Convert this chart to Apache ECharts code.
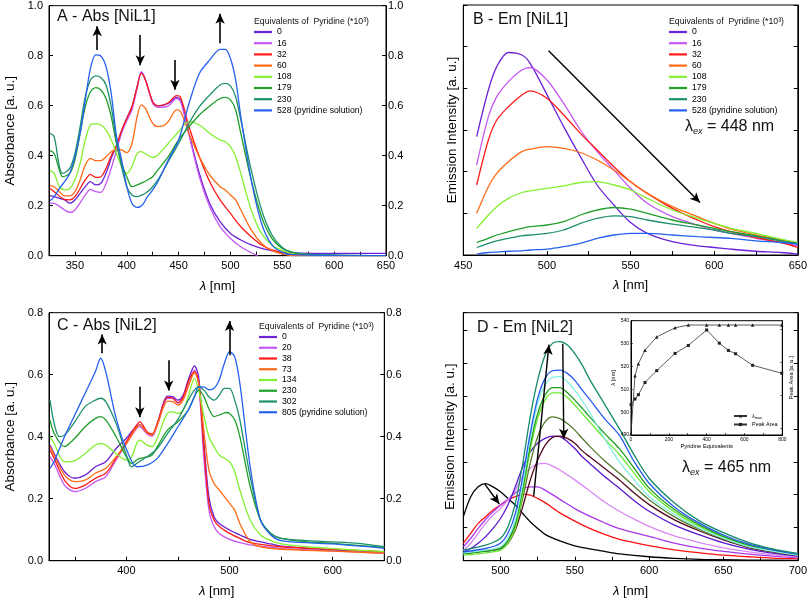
<!DOCTYPE html>
<html><head><meta charset="utf-8">
<script src="https://cdn.jsdelivr.net/npm/echarts@6/dist/echarts.min.js"></script>
<style>html,body{margin:0;padding:0;background:#fff}#c{width:810px;height:601px}</style>
</head><body><div id="c"></div>
<script>
// ---------- Panel A: Abs [NiL1] ----------
const legendA = ['0','16','32','60','108','179','230','528 (pyridine solution)'];
const colorsA = ['#6a22d6','#c657f2','#ff1a1a','#ff6a14','#84f032','#1f9e2a','#1f8f6c','#2462ee'];
const absA_0 = [[326,0.24],[330,0.236],[340,0.223],[345,0.21],[350,0.223],[360,0.276],[365,0.296],[370,0.283],[375,0.29],[380,0.33],[385,0.39],[390,0.44],[395,0.5],[400,0.55],[405,0.596],[410,0.676],[414,0.732],[418,0.703],[425,0.616],[430,0.599],[440,0.609],[448,0.633],[452,0.623],[460,0.489],[470,0.329],[480,0.209],[490,0.136],[500,0.089],[510,0.063],[520,0.043],[530,0.029],[540,0.02],[550,0.013],[580,0.009],[650,0.009]];
const absA_16 = [[326,0.21],[330,0.209],[340,0.183],[345,0.173],[350,0.183],[360,0.243],[365,0.265],[370,0.256],[375,0.253],[380,0.289],[385,0.35],[390,0.42],[395,0.49],[400,0.54],[405,0.583],[410,0.669],[414,0.736],[418,0.705],[425,0.609],[430,0.593],[440,0.599],[448,0.628],[452,0.616],[460,0.483],[470,0.316],[480,0.196],[490,0.116],[500,0.069],[510,0.036],[520,0.012],[526,0]];
const absA_32 = [[326,0.27],[330,0.256],[340,0.225],[345,0.223],[350,0.236],[360,0.303],[365,0.325],[370,0.313],[375,0.316],[380,0.349],[385,0.4],[390,0.44],[395,0.5],[400,0.549],[405,0.596],[410,0.676],[414,0.729],[418,0.703],[425,0.616],[430,0.599],[440,0.612],[448,0.64],[452,0.633],[460,0.516],[470,0.396],[480,0.296],[490,0.223],[500,0.169],[510,0.116],[520,0.076],[530,0.043],[540,0.023],[550,0.012],[560,0.005],[580,0.001],[650,0]];
const absA_60 = [[326,0.28],[330,0.276],[335,0.256],[340,0.239],[345,0.239],[350,0.256],[355,0.303],[360,0.363],[365,0.389],[370,0.38],[375,0.38],[380,0.396],[385,0.416],[390,0.425],[395,0.423],[400,0.412],[405,0.449],[410,0.556],[414,0.603],[418,0.589],[425,0.529],[430,0.516],[435,0.519],[440,0.536],[448,0.583],[452,0.576],[460,0.489],[470,0.396],[480,0.323],[490,0.276],[495,0.263],[500,0.243],[505,0.223],[510,0.183],[520,0.103],[530,0.049],[540,0.02],[550,0.007],[560,0],[650,0]];
const absA_108 = [[326,0.34],[330,0.329],[335,0.276],[340,0.263],[345,0.269],[350,0.303],[355,0.369],[360,0.463],[365,0.523],[370,0.527],[375,0.523],[380,0.503],[385,0.463],[390,0.41],[395,0.356],[400,0.329],[405,0.356],[410,0.409],[414,0.416],[418,0.407],[425,0.393],[430,0.403],[440,0.449],[450,0.496],[460,0.536],[470,0.523],[480,0.489],[490,0.463],[495,0.456],[500,0.436],[505,0.396],[510,0.329],[520,0.183],[530,0.089],[540,0.043],[550,0.02],[560,0.009],[580,0.003],[650,0]];
const absA_179 = [[326,0.42],[330,0.409],[335,0.343],[338,0.316],[345,0.329],[350,0.383],[355,0.489],[360,0.596],[365,0.656],[370,0.672],[375,0.663],[380,0.629],[385,0.556],[390,0.45],[395,0.369],[400,0.316],[405,0.276],[410,0.283],[415,0.292],[420,0.303],[425,0.316],[430,0.343],[440,0.396],[450,0.463],[460,0.516],[470,0.563],[480,0.599],[490,0.629],[495,0.633],[500,0.623],[505,0.583],[510,0.489],[520,0.303],[530,0.156],[540,0.069],[550,0.029],[560,0.013],[580,0.004],[650,0]];
const absA_230 = [[326,0.49],[330,0.476],[335,0.356],[338,0.329],[345,0.349],[350,0.409],[355,0.516],[360,0.636],[365,0.703],[370,0.719],[375,0.713],[380,0.683],[385,0.596],[390,0.46],[395,0.356],[400,0.276],[405,0.243],[410,0.236],[415,0.243],[420,0.256],[425,0.276],[430,0.303],[440,0.376],[450,0.449],[460,0.529],[470,0.596],[480,0.643],[490,0.683],[495,0.689],[500,0.679],[505,0.636],[510,0.543],[520,0.343],[530,0.183],[540,0.083],[550,0.033],[560,0.013],[580,0.004],[650,0]];
const absA_528 = [[326,0.22],[330,0.236],[335,0.269],[340,0.296],[345,0.329],[350,0.396],[355,0.489],[360,0.623],[365,0.749],[370,0.803],[375,0.799],[380,0.756],[385,0.649],[390,0.48],[395,0.383],[400,0.276],[405,0.209],[410,0.193],[415,0.203],[420,0.236],[425,0.263],[430,0.296],[440,0.383],[450,0.463],[460,0.609],[470,0.729],[480,0.783],[490,0.825],[495,0.825],[500,0.789],[505,0.703],[510,0.556],[520,0.303],[530,0.129],[540,0.043],[550,0.013],[560,0.004],[650,0]];
const arrowsA = [[371.5,0.823,371.5,0.918],[413,0.883,413,0.762],[446.5,0.783,446.5,0.664],[490,0.85,490,0.968]];

// ---------- Panel B: Em [NiL1] ----------
const wlB = [458,465,470,477,485,490,500,510,520,530,540,550,560,575,590,600,610,625,640,650];
const emB_0 = [2.84,3.96,4.52,4.86,4.8,4.6,3.85,3.08,2.36,1.68,1.2,0.78,0.52,0.32,0.22,0.18,0.14,0.09,0.06,0.02];
const emB_16 = [2.16,3.32,3.8,4.16,4.44,4.5,4.2,3.64,3.0,2.48,2.04,1.6,1.24,0.92,0.72,0.6,0.52,0.4,0.3,0.22];
const emB_32 = [1.68,2.76,3.24,3.56,3.84,3.94,3.76,3.36,2.92,2.52,2.12,1.76,1.48,1.12,0.84,0.68,0.56,0.42,0.3,0.18];
const emB_60 = [1.0,1.64,1.96,2.24,2.48,2.54,2.6,2.56,2.46,2.28,2.04,1.76,1.48,1.16,0.92,0.76,0.62,0.48,0.36,0.28];
const emB_108 = [0.64,0.96,1.16,1.36,1.5,1.54,1.6,1.66,1.74,1.76,1.68,1.56,1.36,1.08,0.88,0.76,0.64,0.52,0.38,0.3];
const emB_179 = [0.3,0.4,0.48,0.56,0.64,0.68,0.72,0.8,0.96,1.08,1.14,1.1,1.0,0.84,0.72,0.64,0.56,0.46,0.34,0.28];
const emB_230 = [0.18,0.28,0.34,0.4,0.46,0.48,0.52,0.6,0.76,0.88,0.94,0.92,0.84,0.74,0.66,0.6,0.52,0.44,0.34,0.27];
const emB_528 = [0.02,0.06,0.07,0.09,0.1,0.12,0.14,0.2,0.28,0.4,0.48,0.52,0.52,0.48,0.44,0.42,0.4,0.34,0.3,0.26];
const arrowsB = [[501,4.9,591.5,1.26]];

// ---------- Panel C: Abs [NiL2] ----------
const legendC = ['0','20','38','73','134','230','302','805 (pyridine solution)'];
const colorsC = ['#6a22d6','#c657f2','#ff1a1a','#ff6a14','#84f032','#1f9e2a','#1f8f6c','#2462ee'];
const absC_0 = [[326,0.373],[330,0.346],[340,0.287],[350,0.266],[360,0.276],[370,0.303],[380,0.319],[390,0.362],[400,0.395],[405,0.416],[410,0.434],[413,0.438],[420,0.411],[425,0.405],[430,0.443],[440,0.531],[445,0.529],[450,0.518],[455,0.534],[460,0.583],[466,0.628],[470,0.594],[475,0.389],[480,0.206],[485,0.142],[490,0.12],[500,0.099],[510,0.083],[520,0.069],[530,0.061],[540,0.054],[550,0.047],[575,0.04],[600,0.034],[625,0.031],[650,0.028]];
const absC_20 = [[326,0.335],[330,0.314],[340,0.244],[350,0.223],[360,0.233],[370,0.255],[380,0.271],[390,0.325],[400,0.378],[410,0.427],[413,0.432],[420,0.409],[425,0.402],[430,0.438],[440,0.524],[445,0.524],[450,0.508],[455,0.527],[460,0.572],[466,0.615],[470,0.572],[475,0.335],[480,0.163],[485,0.11],[490,0.088],[500,0.069],[510,0.058],[520,0.051],[550,0.04],[600,0.032],[650,0.024]];
const absC_38 = [[326,0.357],[330,0.33],[340,0.26],[350,0.233],[360,0.244],[370,0.266],[380,0.282],[390,0.33],[400,0.384],[410,0.438],[413,0.448],[420,0.416],[425,0.409],[430,0.443],[440,0.527],[445,0.524],[450,0.51],[455,0.527],[460,0.578],[466,0.61],[470,0.578],[475,0.368],[480,0.185],[485,0.131],[490,0.11],[500,0.088],[510,0.072],[520,0.058],[550,0.045],[600,0.037],[650,0.029]];
const absC_73 = [[326,0.368],[330,0.341],[340,0.276],[350,0.255],[360,0.26],[370,0.282],[380,0.298],[390,0.335],[400,0.378],[410,0.43],[413,0.438],[420,0.413],[425,0.405],[430,0.438],[440,0.515],[445,0.513],[450,0.502],[455,0.518],[460,0.561],[466,0.606],[470,0.572],[475,0.422],[480,0.292],[485,0.249],[490,0.228],[500,0.185],[505,0.163],[510,0.12],[520,0.061],[530,0.045],[550,0.037],[600,0.031],[650,0.024]];
const absC_134 = [[326,0.4],[330,0.378],[340,0.319],[350,0.323],[360,0.346],[370,0.373],[375,0.378],[380,0.373],[390,0.346],[400,0.325],[405,0.335],[410,0.378],[413,0.389],[420,0.373],[425,0.368],[430,0.395],[440,0.477],[445,0.48],[450,0.475],[455,0.486],[460,0.529],[466,0.588],[470,0.551],[475,0.47],[480,0.4],[485,0.368],[490,0.341],[500,0.319],[505,0.287],[510,0.228],[520,0.131],[530,0.083],[540,0.065],[550,0.054],[575,0.045],[600,0.039],[650,0.029]];
const absC_230 = [[326,0.454],[330,0.411],[340,0.368],[350,0.395],[360,0.432],[370,0.459],[375,0.465],[380,0.454],[390,0.4],[400,0.335],[405,0.314],[410,0.325],[413,0.33],[420,0.335],[425,0.341],[430,0.368],[440,0.422],[450,0.448],[460,0.486],[466,0.53],[470,0.55],[475,0.53],[480,0.49],[485,0.465],[490,0.47],[497,0.478],[500,0.475],[505,0.455],[510,0.4],[520,0.239],[530,0.131],[540,0.088],[550,0.072],[575,0.061],[600,0.056],[650,0.043]];
const absC_302 = [[326,0.518],[330,0.443],[335,0.4],[340,0.405],[350,0.448],[360,0.497],[370,0.518],[375,0.524],[380,0.513],[390,0.443],[400,0.341],[405,0.303],[410,0.314],[415,0.325],[420,0.335],[430,0.362],[440,0.411],[450,0.456],[460,0.518],[466,0.551],[470,0.561],[475,0.551],[480,0.529],[485,0.518],[490,0.534],[495,0.556],[500,0.556],[505,0.518],[510,0.454],[520,0.271],[530,0.131],[540,0.088],[550,0.072],[575,0.065],[600,0.061],[625,0.056],[650,0.045]];
const absC_805 = [[326,0.298],[330,0.32],[340,0.4],[350,0.47],[360,0.54],[370,0.61],[375,0.653],[380,0.61],[390,0.46],[400,0.36],[410,0.303],[420,0.308],[430,0.33],[440,0.378],[450,0.432],[460,0.486],[466,0.529],[470,0.561],[475,0.561],[480,0.551],[485,0.556],[490,0.583],[495,0.637],[500,0.674],[505,0.658],[510,0.572],[520,0.303],[530,0.131],[540,0.083],[550,0.065],[575,0.058],[600,0.054],[650,0.04]];
const arrowsC = [[376.5,0.669,376.5,0.73],[413,0.561,413,0.463],[441,0.647,441,0.549],[500,0.663,500,0.773]];

// ---------- Panel D: Em [NiL2] ----------
const colorsD = ['#000000','#ff1010','#a838e8','#d888f4','#5a18d0','#520a1c','#557a2c','#6ae830','#1e9a1e','#86eee0','#2458f0','#158a68'];
const emD_black = [[475,1.33],[480,1.94],[485,2.24],[490,2.34],[495,2.24],[500,2.09],[505,1.89],[510,1.69],[515,1.43],[520,1.18],[525,0.98],[530,0.8],[540,0.6],[550,0.45],[560,0.36],[570,0.28],[580,0.21],[600,0.12],[617,0.07],[634,0.04],[650,0.03],[667,0.02],[700,0.01]];
const emD_red = [[475,0.53],[480,0.83],[485,1.13],[490,1.33],[495,1.54],[500,1.69],[505,1.84],[510,1.94],[515,2.02],[520,1.99],[525,1.89],[530,1.76],[540,1.45],[550,1.2],[560,0.98],[570,0.8],[580,0.65],[590,0.55],[600,0.46],[617,0.33],[634,0.24],[650,0.17],[667,0.12],[683,0.08],[700,0.06]];
const emD_violet = [[475,0.42],[480,0.68],[485,0.98],[490,1.25],[495,1.48],[500,1.69],[505,1.86],[510,2.06],[515,2.19],[520,2.24],[525,2.24],[530,2.14],[540,1.86],[550,1.58],[560,1.35],[570,1.15],[580,0.97],[590,0.85],[600,0.74],[617,0.53],[634,0.38],[650,0.28],[667,0.2],[683,0.14],[700,0.09]];
const emD_orchid = [[475,0.32],[480,0.53],[485,0.83],[490,1.13],[495,1.38],[500,1.59],[505,1.84],[510,2.14],[515,2.55],[520,2.8],[525,2.93],[530,2.95],[535,2.87],[540,2.75],[550,2.45],[560,2.12],[570,1.78],[580,1.5],[590,1.26],[600,1.04],[617,0.75],[634,0.55],[650,0.39],[667,0.27],[683,0.18],[700,0.11]];
const emD_purple = [[475,0.27],[480,0.37],[485,0.53],[490,0.73],[495,0.98],[500,1.28],[505,1.69],[510,2.24],[515,2.85],[520,3.3],[525,3.56],[530,3.71],[535,3.78],[540,3.76],[545,3.61],[550,3.4],[555,3.15],[560,2.95],[570,2.55],[580,2.2],[590,1.82],[600,1.5],[617,1.08],[634,0.78],[650,0.54],[667,0.35],[683,0.23],[700,0.14]];
const emD_maroon = [[475,0.22],[480,0.24],[485,0.27],[490,0.29],[495,0.32],[500,0.37],[505,0.53],[510,0.93],[515,1.64],[520,2.44],[525,3.05],[530,3.5],[535,3.74],[540,3.78],[545,3.71],[550,3.56],[555,3.33],[560,3.15],[570,2.8],[580,2.45],[590,2.05],[600,1.7],[617,1.24],[634,0.9],[650,0.63],[667,0.4],[683,0.27],[700,0.16]];
const emD_olive = [[475,0.22],[480,0.25],[490,0.3],[500,0.4],[505,0.6],[510,1.05],[515,1.9],[520,2.95],[525,3.76],[530,4.21],[535,4.36],[540,4.31],[545,4.16],[550,3.96],[555,3.71],[560,3.47],[570,3.03],[580,2.65],[590,2.25],[600,1.85],[617,1.33],[634,0.95],[650,0.66],[667,0.42],[683,0.28],[700,0.17]];
const emD_lgreen = [[475,0.17],[490,0.24],[500,0.32],[505,0.53],[510,0.98],[515,2.04],[520,3.35],[525,4.31],[530,4.87],[535,5.09],[540,5.09],[545,4.95],[550,4.72],[555,4.46],[560,4.21],[570,3.7],[580,3.22],[590,2.65],[600,2.1],[617,1.48],[634,1.03],[650,0.71],[667,0.45],[683,0.3],[700,0.18]];
const emD_green = [[475,0.22],[490,0.29],[500,0.37],[505,0.63],[510,1.13],[515,2.19],[520,3.5],[525,4.46],[530,5.02],[535,5.25],[540,5.25],[545,5.09],[550,4.87],[555,4.62],[560,4.36],[570,3.86],[580,3.4],[590,2.8],[600,2.2],[617,1.55],[634,1.08],[650,0.74],[667,0.47],[683,0.31],[700,0.19]];
const emD_cyan = [[475,0.24],[490,0.32],[500,0.42],[505,0.68],[510,1.23],[515,2.34],[520,3.71],[525,4.77],[530,5.33],[535,5.56],[540,5.58],[545,5.42],[550,5.17],[555,4.85],[560,4.5],[570,3.7],[580,3.0],[590,2.45],[600,1.95],[617,1.4],[634,0.98],[650,0.68],[667,0.43],[683,0.29],[700,0.17]];
const emD_blue = [[475,0.27],[490,0.37],[500,0.53],[505,0.83],[510,1.43],[515,2.55],[520,3.86],[525,4.92],[530,5.53],[535,5.76],[540,5.78],[545,5.68],[550,5.47],[555,5.17],[560,4.89],[570,4.31],[580,3.8],[590,3.0],[600,2.35],[617,1.63],[634,1.13],[650,0.78],[667,0.5],[683,0.33],[700,0.2]];
const emD_teal = [[475,0.32],[490,0.47],[500,0.68],[505,1.03],[510,1.74],[515,2.95],[520,4.36],[525,5.47],[530,6.23],[535,6.59],[540,6.64],[545,6.54],[550,6.28],[555,5.93],[560,5.5],[570,4.75],[580,4.0],[590,3.2],[600,2.5],[617,1.75],[634,1.2],[650,0.85],[667,0.55],[683,0.36],[700,0.22]];
const arrowsD = [[489.5,2.32,499.2,1.72],[522.3,1.95,532.6,6.55],[541.9,6.58,542.6,3.7]];

// ---------- Inset ----------
const insetEq = [0,21,39,74,136,233,303,400,467,515,553,643,797];
const insetLmax = [490.6,515.9,521.2,527.1,532.9,536.9,538.1,538.1,538.1,538.1,538.1,538.1,538.1];
const insetArea = [1.72,1.89,2.02,2.39,2.75,3.27,3.51,3.98,3.58,3.36,3.26,2.91,2.67];

// ================= build =================
const F = '"Liberation Sans", Arial, Helvetica, sans-serif';
const chart = echarts.init(document.getElementById('c'), null, {renderer: 'canvas'});

function line(name, data, color, xi, yi, extra) {
  return Object.assign({
    type: 'line', name, data, xAxisIndex: xi, yAxisIndex: yi, symbol: 'none',
    smooth: 0.3, lineStyle: {width: 1.3, color}, itemStyle: {color},
    silent: true, animation: false
  }, extra || {});
}
function arrowMark(list, w) {
  return {
    silent: true, animation: false, symbol: ['none', 'arrow'], symbolSize: [7, 10],
    lineStyle: {color: '#000', width: w || 1.6, type: 'solid'}, label: {show: false},
    emphasis: {disabled: true},
    data: list.map(a => [{coord: [a[0], a[1]]}, {coord: [a[2], a[3]]}])
  };
}
const pair = (xs, ys) => xs.map((x, i) => [x, ys[i]]);

const axLine = {show: true, lineStyle: {color: '#000', width: 1}};
const tickIn = {show: true, inside: true, length: 4, lineStyle: {color: '#000', width: 1}};
const lbl = (o) => Object.assign({color: '#000', fontFamily: F, fontSize: 11}, o || {});
const lam = {fontFamily: F, fontSize: 13, color: '#000', rich: {i: {fontStyle: 'italic', fontFamily: F, fontSize: 13}}};

const grids = [
  {left: 49, top: 5.7, width: 337, height: 250},
  {left: 463.3, top: 5, width: 336, height: 250},
  {left: 49, top: 312.7, width: 335.3, height: 248},
  {left: 463.3, top: 312.7, width: 335.7, height: 248},
  {left: 631, top: 320.7, width: 151.3, height: 114.3, backgroundColor: '#fff', z: 5}
].map(g => Object.assign({show: true, borderColor: '#000', borderWidth: 1, containLabel: false}, g));

const xAxes = [
  {gridIndex: 0, type: 'value', min: 325, max: 650, interval: 25, axisLine: axLine, axisTick: tickIn, splitLine: {show: false},
   axisLabel: lbl({margin: 5, formatter: v => v % 50 === 0 ? String(v) : ''}),
   name: '{i|λ} [nm]', nameLocation: 'middle', nameGap: 24, nameTextStyle: lam},
  {gridIndex: 1, type: 'value', min: 450, max: 650, interval: 25, axisLine: axLine, axisTick: tickIn, splitLine: {show: false},
   axisLabel: lbl({margin: 5, formatter: v => v % 50 === 0 ? String(v) : ''}),
   name: '{i|λ} [nm]', nameLocation: 'middle', nameGap: 24, nameTextStyle: lam},
  {gridIndex: 2, type: 'value', min: 325, max: 650, interval: 25, axisLine: axLine,
   axisTick: Object.assign({}, tickIn, {customValues: [350, 400, 450, 500, 550, 600, 650]}), splitLine: {show: false},
   axisLabel: lbl({margin: 5, customValues: [400, 500, 600], formatter: v => v % 100 === 0 ? String(v) : ''}),
   name: '{i|λ} [nm]', nameLocation: 'middle', nameGap: 24, nameTextStyle: lam},
  {gridIndex: 3, type: 'value', min: 475, max: 700, interval: 25, axisLine: axLine, axisTick: tickIn, splitLine: {show: false},
   axisLabel: lbl({margin: 5, formatter: v => v % 50 === 0 ? String(v) : ''}),
   name: '{i|λ} [nm]', nameLocation: 'middle', nameGap: 24, nameTextStyle: lam},
  {gridIndex: 4, type: 'value', min: 0, max: 800, interval: 100, axisLine: axLine,
   axisTick: {show: true, inside: true, length: 2, lineStyle: {color: '#000', width: 0.6}}, splitLine: {show: false},
   axisLabel: lbl({fontSize: 5, margin: 2, formatter: v => v % 200 === 0 ? String(v) : ''}),
   name: 'Pyridine Equivalents', nameLocation: 'middle', nameGap: 8, nameTextStyle: {fontFamily: F, fontSize: 5.8, color: '#000'}, z: 6}
];

const yName = (t, gap) => ({name: t, nameLocation: 'middle', nameRotate: 90, nameGap: gap, nameTextStyle: {fontFamily: F, fontSize: 13.5, color: '#000'}});
const yAxes = [
  Object.assign({gridIndex: 0, type: 'value', min: 0, max: 1, interval: 0.2, axisLine: axLine, axisTick: tickIn, splitLine: {show: false},
   axisLabel: lbl({margin: 6, formatter: v => v.toFixed(1)})}, yName('Absorbance [a. u.]', 32)),
  {gridIndex: 0, type: 'value', position: 'right', min: 0, max: 1, interval: 0.2, axisLine: axLine, axisTick: tickIn, splitLine: {show: false},
   axisLabel: lbl({margin: 2, formatter: v => v.toFixed(1)})},
  Object.assign({gridIndex: 1, type: 'value', min: 0, max: 6, interval: 1, axisLine: axLine, axisTick: tickIn, splitLine: {show: false},
   axisLabel: {show: false}}, yName('Emission Intensity [a. u.]', 4.5)),
  {gridIndex: 1, type: 'value', position: 'right', min: 0, max: 6, interval: 1, axisLine: axLine, axisTick: tickIn, splitLine: {show: false}, axisLabel: {show: false}},
  Object.assign({gridIndex: 2, type: 'value', min: 0, max: 0.8, interval: 0.2, axisLine: axLine, axisTick: tickIn, splitLine: {show: false},
   axisLabel: lbl({margin: 6, formatter: v => v.toFixed(1)})}, yName('Absorbance [a. u.]', 32)),
  {gridIndex: 2, type: 'value', position: 'right', min: 0, max: 0.8, interval: 0.2, axisLine: axLine, axisTick: tickIn, splitLine: {show: false},
   axisLabel: lbl({margin: 2, formatter: v => v.toFixed(1)})},
  Object.assign({gridIndex: 3, type: 'value', min: 0, max: 7.52, interval: 1, axisLine: axLine, axisTick: tickIn, splitLine: {show: false},
   axisLabel: {show: false}}, yName('Emission Intensity [a. u.]', 6)),
  {gridIndex: 3, type: 'value', position: 'right', min: 0, max: 7.52, interval: 1, axisLine: axLine, axisTick: tickIn, splitLine: {show: false}, axisLabel: {show: false}},
  {gridIndex: 4, type: 'value', min: 490, max: 540, interval: 10, axisLine: axLine,
   axisTick: {show: true, inside: true, length: 2, lineStyle: {color: '#000', width: 0.6}}, splitLine: {show: false},
   axisLabel: lbl({fontSize: 5, margin: 2}),
   name: '{i|λ} [nm]', nameLocation: 'middle', nameRotate: 90, nameGap: 11,
   nameTextStyle: {fontFamily: F, fontSize: 5.8, color: '#000', rich: {i: {fontStyle: 'italic', fontSize: 5.8, fontFamily: F}}}, z: 6},
  {gridIndex: 4, type: 'value', position: 'right', min: 0.8, max: 4.26, axisLine: axLine,
   axisTick: {show: true, inside: true, length: 2, customValues: [1, 2, 3, 4], lineStyle: {color: '#000', width: 0.6}}, splitLine: {show: false},
   axisLabel: {show: false},
   name: 'Peak Area [a. u.]', nameLocation: 'middle', nameRotate: 90, nameGap: 6,
   nameTextStyle: {fontFamily: F, fontSize: 5.8, color: '#000'}, z: 6}
];

const series = [];
const dataA = [absA_0, absA_16, absA_32, absA_60, absA_108, absA_179, absA_230, absA_528];
dataA.forEach((d, i) => series.push(line('A:' + legendA[i], d, colorsA[i], 0, 0, i === 0 ? {markLine: arrowMark(arrowsA)} : {})));
const dataB = [emB_0, emB_16, emB_32, emB_60, emB_108, emB_179, emB_230, emB_528];
dataB.forEach((d, i) => series.push(line('B:' + legendA[i], pair(wlB, d), colorsA[i], 1, 2, i === 0 ? {markLine: arrowMark(arrowsB, 1.4)} : {})));
const dataC = [absC_0, absC_20, absC_38, absC_73, absC_134, absC_230, absC_302, absC_805];
dataC.forEach((d, i) => series.push(line('C:' + legendC[i], d, colorsC[i], 2, 4, i === 0 ? {markLine: arrowMark(arrowsC)} : {})));
const dataD = [emD_black, emD_red, emD_violet, emD_orchid, emD_purple, emD_maroon, emD_olive, emD_lgreen, emD_green, emD_cyan, emD_blue, emD_teal];
dataD.forEach((d, i) => series.push(line('D:' + i, d, colorsD[i], 3, 6, i === 0 ? {markLine: arrowMark(arrowsD, 1.4)} : {})));
series.push({type: 'line', name: 'I:λmax', data: pair(insetEq, insetLmax), xAxisIndex: 4, yAxisIndex: 8,
  symbol: 'triangle', symbolSize: 3.5, lineStyle: {width: 0.8, color: '#333'}, itemStyle: {color: '#222'}, z: 10, silent: true, animation: false});
series.push({type: 'line', name: 'I:Peak Area', data: pair(insetEq, insetArea), xAxisIndex: 4, yAxisIndex: 9,
  symbol: 'rect', symbolSize: 3, lineStyle: {width: 0.8, color: '#333'}, itemStyle: {color: '#222'}, z: 10, silent: true, animation: false});

const legBase = {orient: 'vertical', itemWidth: 18, itemHeight: 2.2, itemGap: 2.2, padding: 0, selectedMode: false,
  icon: 'rect', textStyle: {fontFamily: F, fontSize: 8.7, color: '#000', lineHeight: 8}, formatter: n => n.split(':')[1]};
const legend = [
  Object.assign({}, legBase, {left: 254, top: 27.5, data: legendA.map(n => 'A:' + n)}),
  Object.assign({}, legBase, {left: 669, top: 27.5, data: legendA.map(n => 'B:' + n)}),
  Object.assign({}, legBase, {left: 259, top: 332.5, itemGap: 1.75, data: legendC.map(n => 'C:' + n)}),
  {orient: 'vertical', left: 733, top: 413, itemWidth: 13, itemHeight: 4, itemGap: 2, padding: 0, selectedMode: false, z: 30,
   data: ['I:λmax', 'I:Peak Area'],
   textStyle: {fontFamily: F, fontSize: 5.5, color: '#000', rich: {a: {fontSize: 5.5, fontFamily: F}, s: {fontSize: 3.8, fontFamily: F, padding: [3, 0, 0, 0]}}},
   formatter: n => n === 'I:λmax' ? '{a|λ}{s|max}' : n.split(':')[1]}
];

const T = (text, left, top, size, extra) => ({type: 'text', left, top, silent: true, z: 20,
  style: Object.assign({text, font: size + 'px ' + F, fill: '#111'}, extra || {})});
const lamEx = (v) => ({text: '{l|λ}{s|ex}{n| = ' + v + ' nm}',
  rich: {l: {fontSize: 16, fontFamily: F, fill: '#111'}, s: {fontSize: 9, fontFamily: F, fontStyle: 'italic', padding: [9, 0, 0, 0]}, n: {fontSize: 16, fontFamily: F}}});
const graphic = [
  T('A - Abs [NiL1]', 57, 8.5, 16),
  T('B - Em [NiL1]', 473, 11.5, 16),
  T('C - Abs [NiL2]', 57, 318, 16),
  T('D - Em [NiL2]', 477, 320, 16),
  T('Equivalents of  Pyridine (*10³)', 254, 17.5, 8.7),
  T('Equivalents of  Pyridine (*10³)', 669, 17.5, 8.7),
  T('Equivalents of  Pyridine (*10³)', 259, 322, 8.7),
  {type: 'text', left: 685, top: 118.5, silent: true, z: 20, style: Object.assign({font: '16px ' + F, fill: '#111'}, lamEx(448))},
  {type: 'text', left: 682, top: 460, silent: true, z: 20, style: Object.assign({font: '16px ' + F, fill: '#111'}, lamEx(465))}
];

chart.setOption({
  animation: false, backgroundColor: '#fff',
  textStyle: {fontFamily: F},
  grid: grids, xAxis: xAxes, yAxis: yAxes, series, legend, graphic
});
</script></body></html>
